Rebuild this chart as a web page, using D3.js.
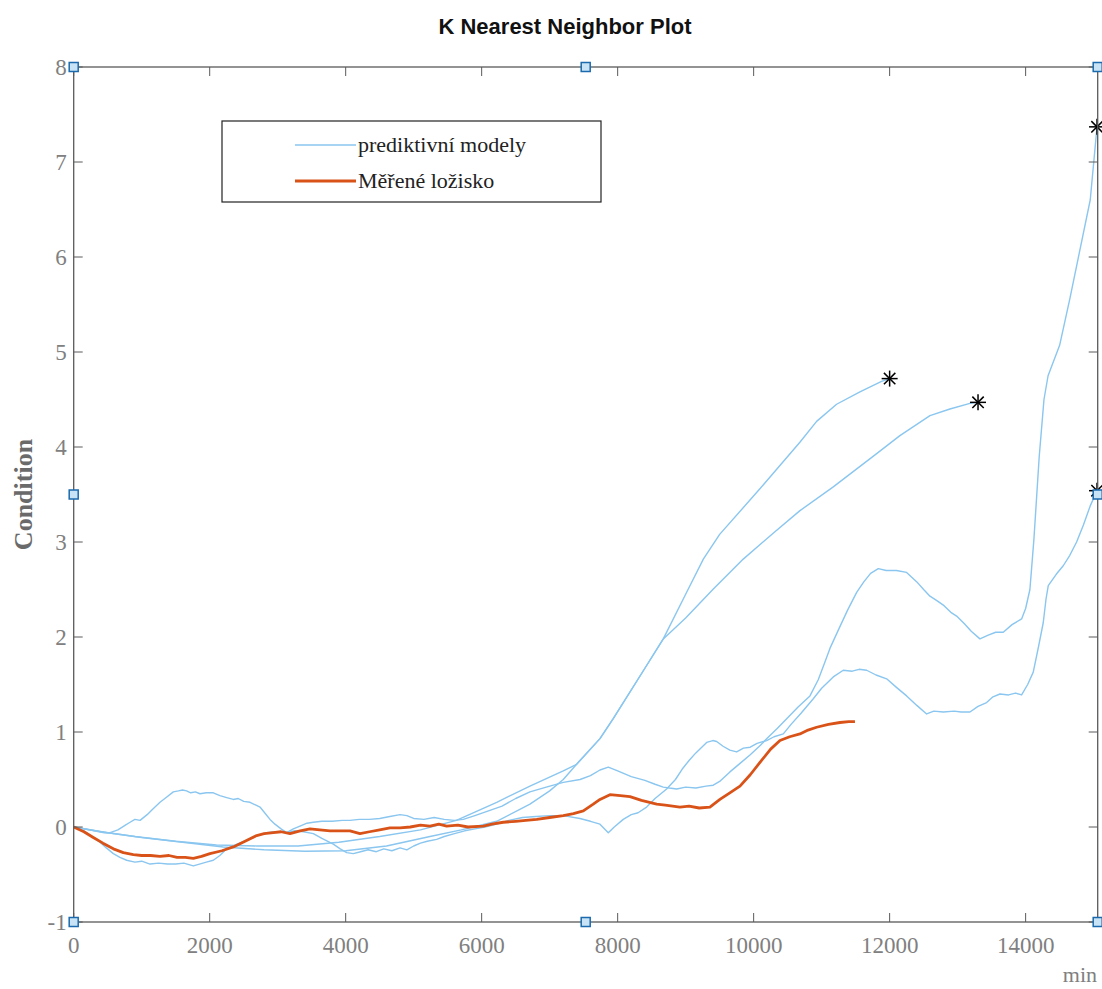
<!DOCTYPE html>
<html>
<head>
<meta charset="utf-8">
<script src="https://cdn.jsdelivr.net/npm/d3@7"></script>
<style>
  body { margin: 0; background: #fff; }
  svg { display: block; }
</style>
</head>
<body>
<svg id="chart" width="1102" height="989"></svg>
<script>
// x ticks / y ticks
const xTicks = [0, 2000, 4000, 6000, 8000, 10000, 12000, 14000];
const yTicks = [-1, 0, 1, 2, 3, 4, 5, 6, 7, 8];
const xMax = 15060;

// predictive models (light blue), [min, condition]
const modelA = [[0,0],[500,-0.06],[1000,-0.11],[1600,-0.16],[2200,-0.21],[2800,-0.24],[3400,-0.255],[4000,-0.25],[4600,-0.2],[5240,-0.1],[5700,-0.03],[6221,0.06],[6710,0.24],[7000,0.38],[7200,0.5],[7396,0.66],[7740,0.93],[7935,1.14],[8426,1.70],[8671,1.98],[9000,2.45],[9260,2.82],[9500,3.08],[10092,3.56],[10680,4.05],[10926,4.27],[11220,4.45],[11563,4.58],[11881,4.69],[12000,4.72]];

const modelB = [[0,0],[400,-0.05],[900,-0.1],[1500,-0.15],[2100,-0.19],[2700,-0.2],[3300,-0.2],[3900,-0.16],[4500,-0.1],[5100,-0.03],[5628,0.07],[6221,0.26],[6710,0.43],[7200,0.59],[7396,0.66],[7740,0.93],[7935,1.14],[8426,1.70],[8671,1.98],[9000,2.2],[9400,2.5],[9847,2.82],[10300,3.1],[10681,3.33],[11171,3.58],[11809,3.93],[12151,4.12],[12593,4.33],[12887,4.4],[13181,4.46],[13300,4.47]];

const modelC = [[0,0],[150,-0.02],[300,-0.04],[450,-0.06],[535,-0.06],[650,-0.03],[760,0.02],[829,0.05],[900,0.08],[976,0.07],[1080,0.13],[1180,0.2],[1269,0.26],[1360,0.31],[1465,0.37],[1540,0.38],[1600,0.39],[1660,0.38],[1720,0.36],[1790,0.37],[1857,0.35],[1950,0.36],[2053,0.36],[2150,0.33],[2250,0.31],[2347,0.29],[2420,0.3],[2500,0.27],[2593,0.26],[2680,0.23],[2740,0.21],[2820,0.14],[2887,0.08],[2960,0.03],[3050,-0.02],[3132,-0.06],[3230,-0.02],[3328,0.01],[3430,0.04],[3524,0.05],[3650,0.06],[3800,0.06],[3950,0.07],[4063,0.07],[4200,0.08],[4350,0.08],[4500,0.09],[4650,0.11],[4800,0.13],[4900,0.12],[5000,0.09],[5150,0.08],[5300,0.1],[5450,0.08],[5600,0.07],[5730,0.08],[5900,0.12],[6100,0.17],[6300,0.22],[6500,0.3],[6710,0.37],[6950,0.42],[7200,0.47],[7447,0.5],[7600,0.54],[7740,0.6],[7862,0.63],[8000,0.59],[8200,0.53],[8400,0.49],[8550,0.45],[8671,0.42],[8760,0.41],[8868,0.4],[9000,0.42],[9150,0.41],[9300,0.43],[9406,0.44],[9500,0.48],[9651,0.58],[9800,0.67],[9950,0.76],[10100,0.86],[10191,0.93],[10350,1.04],[10500,1.15],[10650,1.26],[10828,1.38],[10950,1.55],[11050,1.74],[11122,1.88],[11250,2.08],[11380,2.28],[11515,2.47],[11620,2.58],[11720,2.67],[11833,2.72],[11950,2.7],[12100,2.7],[12250,2.68],[12400,2.58],[12500,2.5],[12593,2.43],[12700,2.38],[12800,2.33],[12900,2.26],[12985,2.22],[13100,2.14],[13200,2.06],[13328,1.98],[13450,2.02],[13560,2.05],[13671,2.05],[13800,2.13],[13941,2.19],[14000,2.3],[14063,2.5],[14122,3.03],[14200,3.9],[14270,4.5],[14330,4.75],[14500,5.07],[14650,5.56],[14800,6.08],[14950,6.6],[15050,7.37]];

const modelD = [[0,0],[150,-0.04],[250,-0.09],[387,-0.16],[480,-0.22],[583,-0.28],[680,-0.32],[779,-0.35],[900,-0.37],[1000,-0.36],[1122,-0.39],[1250,-0.38],[1380,-0.39],[1500,-0.39],[1620,-0.38],[1759,-0.41],[1850,-0.39],[1950,-0.37],[2053,-0.35],[2150,-0.3],[2250,-0.23],[2400,-0.18],[2544,-0.14],[2700,-0.09],[2838,-0.06],[2950,-0.05],[3050,-0.05],[3132,-0.06],[3250,-0.04],[3380,-0.05],[3524,-0.07],[3650,-0.12],[3818,-0.18],[3920,-0.23],[4015,-0.27],[4112,-0.28],[4220,-0.26],[4330,-0.24],[4450,-0.26],[4560,-0.23],[4680,-0.25],[4800,-0.22],[4900,-0.24],[5000,-0.2],[5100,-0.17],[5200,-0.15],[5338,-0.13],[5450,-0.1],[5600,-0.07],[5750,-0.04],[5900,-0.02],[6050,0.0],[6221,0.03],[6400,0.07],[6600,0.1],[6800,0.11],[7000,0.12],[7200,0.12],[7445,0.09],[7600,0.06],[7740,0.03],[7862,-0.06],[7950,0.0],[8082,0.08],[8200,0.13],[8300,0.15],[8426,0.21],[8550,0.3],[8720,0.4],[8850,0.5],[8950,0.61],[9050,0.7],[9150,0.78],[9309,0.89],[9400,0.91],[9456,0.9],[9550,0.85],[9650,0.81],[9750,0.79],[9850,0.83],[9950,0.84],[10050,0.88],[10191,0.91],[10300,0.95],[10436,0.98],[10550,1.08],[10700,1.2],[10877,1.35],[11000,1.46],[11171,1.58],[11318,1.65],[11450,1.64],[11550,1.66],[11662,1.65],[11800,1.6],[11956,1.56],[12100,1.47],[12250,1.38],[12400,1.28],[12544,1.19],[12650,1.22],[12789,1.21],[12950,1.22],[13050,1.21],[13181,1.21],[13300,1.27],[13426,1.31],[13520,1.37],[13622,1.4],[13750,1.39],[13850,1.41],[13941,1.39],[14030,1.5],[14112,1.63],[14190,1.9],[14259,2.15],[14300,2.4],[14333,2.54],[14450,2.66],[14553,2.75],[14650,2.86],[14750,3.0],[14850,3.18],[14950,3.38],[15050,3.54]];

// measured bearing (orange)
const measured = [[0,0],[150,-0.05],[288,-0.11],[430,-0.17],[583,-0.23],[730,-0.27],[877,-0.29],[1000,-0.3],[1130,-0.3],[1269,-0.31],[1400,-0.3],[1520,-0.32],[1640,-0.32],[1759,-0.33],[1880,-0.31],[2004,-0.28],[2180,-0.25],[2347,-0.21],[2520,-0.15],[2691,-0.09],[2800,-0.07],[2936,-0.06],[3050,-0.05],[3181,-0.07],[3330,-0.04],[3475,-0.02],[3620,-0.03],[3769,-0.04],[3900,-0.04],[4063,-0.04],[4210,-0.07],[4350,-0.05],[4500,-0.03],[4651,-0.01],[4800,-0.01],[4950,0.0],[5100,0.02],[5240,0.01],[5370,0.03],[5485,0.01],[5650,0.02],[5800,0.0],[6024,0.01],[6150,0.03],[6318,0.05],[6500,0.06],[6650,0.07],[6809,0.08],[7000,0.1],[7200,0.12],[7350,0.14],[7495,0.17],[7641,0.24],[7740,0.29],[7887,0.34],[8040,0.33],[8181,0.32],[8350,0.28],[8574,0.24],[8700,0.23],[8916,0.21],[9050,0.22],[9200,0.2],[9357,0.21],[9504,0.29],[9650,0.36],[9799,0.43],[9950,0.55],[10093,0.68],[10250,0.82],[10387,0.91],[10530,0.95],[10681,0.98],[10800,1.02],[10926,1.05],[11100,1.08],[11270,1.1],[11400,1.11],[11490,1.11]];

const models = [modelA, modelB, modelC, modelD];
const endPoints = models.map(m => m[m.length - 1]);
const handleX = [0, xMax / 2, xMax];
const handleY = [-1, 3.5, 8];

const svg = d3.select("#chart");
const x = d3.scaleLinear().domain([0, xMax]).range([73.7, 1097.7]);
const y = d3.scaleLinear().domain([-1, 8]).range([922, 67]);

const blue = "#8ac6ef";
const orange = "#d95319";
const axisCol = "#5a5a5a";
const labelCol = "#808080";

const line = d3.line().x(d => x(d[0])).y(d => y(d[1]));

// title
svg.append("text")
  .attr("x", 565).attr("y", 34)
  .attr("text-anchor", "middle")
  .style("font-family", "'Liberation Sans', Arial, sans-serif")
  .style("font-weight", "bold")
  .style("font-size", "22px")
  .attr("fill", "#111")
  .text("K Nearest Neighbor Plot");

// lines
svg.append("g").selectAll("path").data(models).enter().append("path")
  .attr("d", line)
  .attr("fill", "none")
  .attr("stroke", blue)
  .attr("stroke-width", 1.4)
  .attr("stroke-linejoin", "round");

svg.append("path")
  .datum(measured)
  .attr("d", line)
  .attr("fill", "none")
  .attr("stroke", orange)
  .attr("stroke-width", 2.8)
  .attr("stroke-linejoin", "round");

// asterisk markers at model ends
const star = svg.append("g").selectAll("g").data(endPoints).enter().append("g")
  .attr("transform", d => `translate(${x(d[0])},${y(d[1])})`);
const r = 8, rd = 5.7;
[[-r,0,r,0],[0,-r,0,r],[-rd,-rd,rd,rd],[-rd,rd,rd,-rd]].forEach(s => {
  star.append("line")
    .attr("x1", s[0]).attr("y1", s[1]).attr("x2", s[2]).attr("y2", s[3])
    .attr("stroke", "#000").attr("stroke-width", 1.5);
});

// axes box
const axG = svg.append("g");
axG.append("rect")
  .attr("x", x(0)).attr("y", y(8))
  .attr("width", x(xMax) - x(0)).attr("height", y(-1) - y(8))
  .attr("fill", "none").attr("stroke", axisCol).attr("stroke-width", 1.3);

const tl = 9;
axG.selectAll(".xtb").data(xTicks).enter().append("line")
  .attr("x1", d => x(d)).attr("x2", d => x(d))
  .attr("y1", y(-1)).attr("y2", y(-1) - tl)
  .attr("stroke", axisCol);
axG.selectAll(".xtt").data(xTicks).enter().append("line")
  .attr("x1", d => x(d)).attr("x2", d => x(d))
  .attr("y1", y(8)).attr("y2", y(8) + tl)
  .attr("stroke", axisCol);
axG.selectAll(".ytl").data(yTicks).enter().append("line")
  .attr("x1", x(0)).attr("x2", x(0) + tl)
  .attr("y1", d => y(d)).attr("y2", d => y(d))
  .attr("stroke", axisCol);
axG.selectAll(".ytr").data(yTicks).enter().append("line")
  .attr("x1", x(xMax)).attr("x2", x(xMax) - tl)
  .attr("y1", d => y(d)).attr("y2", d => y(d))
  .attr("stroke", axisCol);

const serif = "'Liberation Serif', 'Times New Roman', serif";
axG.selectAll(".xl").data(xTicks).enter().append("text")
  .attr("x", d => x(d)).attr("y", y(-1) + 31)
  .attr("text-anchor", "middle")
  .style("font-family", serif).style("font-size", "23px")
  .attr("fill", labelCol)
  .text(d => d);
axG.selectAll(".yl").data(yTicks).enter().append("text")
  .attr("x", x(0) - 7).attr("y", d => y(d) + 8)
  .attr("text-anchor", "end")
  .style("font-family", serif).style("font-size", "23px")
  .attr("fill", labelCol)
  .text(d => d);

svg.append("text")
  .attr("x", 1097).attr("y", 982)
  .attr("text-anchor", "end")
  .style("font-family", serif).style("font-size", "22px")
  .attr("fill", labelCol)
  .text("min");

svg.append("text")
  .attr("transform", `translate(32,${y(3.5)}) rotate(-90)`)
  .attr("text-anchor", "middle")
  .style("font-family", serif).style("font-size", "26px").style("font-weight", "bold")
  .attr("fill", "#6a6a6a")
  .text("Condition");

// selection handles
const handles = [];
handleX.forEach(hx => handleY.forEach(hy => {
  if (hx === xMax / 2 && hy === 3.5) return;
  handles.push([hx, hy]);
}));
svg.append("g").selectAll("rect").data(handles).enter().append("rect")
  .attr("x", d => x(d[0]) - 4.5).attr("y", d => y(d[1]) - 4.5)
  .attr("width", 9).attr("height", 9)
  .attr("fill", "#c9e3f6").attr("stroke", "#1b6aae").attr("stroke-width", 1.5);

// legend
const leg = svg.append("g");
leg.append("rect")
  .attr("x", 222).attr("y", 121).attr("width", 379).attr("height", 81)
  .attr("fill", "#fff").attr("stroke", "#222").attr("stroke-width", 1.2);
const legItems = [
  { label: "prediktivní modely", color: blue, w: 1.4, yy: 145 },
  { label: "Měřené ložisko", color: orange, w: 2.8, yy: 181 }
];
legItems.forEach(it => {
  leg.append("line")
    .attr("x1", 295).attr("x2", 356).attr("y1", it.yy).attr("y2", it.yy)
    .attr("stroke", it.color).attr("stroke-width", it.w);
  leg.append("text")
    .attr("x", 358).attr("y", it.yy + 7)
    .style("font-family", serif).style("font-size", "22px")
    .attr("fill", "#222")
    .text(it.label);
});
</script>
</body>
</html>
